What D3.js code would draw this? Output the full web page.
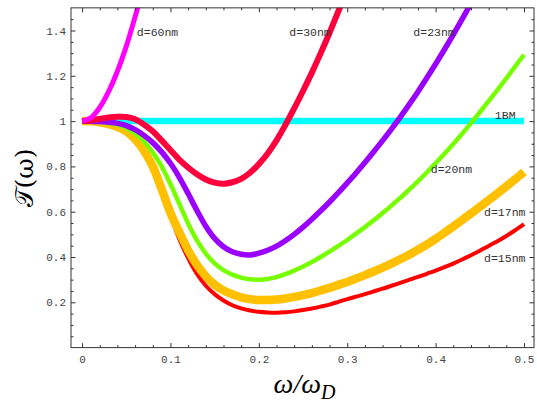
<!DOCTYPE html>
<html lang="en">
<head>
    <meta charset="UTF-8">
    <title>Transmission</title>
    <script src="https://d3js.org/d3.v7.min.js"></script>
</head>
<body>
<div id='chart'>
    <svg></svg>
</div>
</body>

<style>
    body {
        margin: 0;
        background: #fff;
    }

    path.curve {
        fill: none;
        stroke-linejoin: round;
    }

    .tick text {
        font-family: "Liberation Mono", "DejaVu Sans Mono", monospace;
        font-size: 11px;
        fill: #444;
    }

    .tick line {
        stroke: #333;
    }

    text.note {
        font-family: "Liberation Mono", "DejaVu Sans Mono", monospace;
        font-size: 11.5px;
        fill: #333;
    }
</style>

<script>
    // frequency grid (omega / omega_D)
    const omega = [0, 0.01, 0.02, 0.03, 0.04, 0.05, 0.06, 0.07, 0.08, 0.09,
        0.1, 0.11, 0.12, 0.13, 0.14, 0.15, 0.16, 0.17, 0.18, 0.19,
        0.2, 0.21, 0.22, 0.23, 0.24, 0.25, 0.26, 0.27, 0.28, 0.29,
        0.3, 0.31, 0.32, 0.33, 0.34, 0.35, 0.36, 0.37, 0.38, 0.39,
        0.4, 0.41, 0.42, 0.43, 0.44, 0.45, 0.46, 0.47, 0.48, 0.49, 0.5];

    const bulk = [1, 1, 1, 1, 1, 1, 1, 1, 1, 1, 1, 1, 1, 1, 1, 1, 1, 1, 1, 1, 1, 1, 1, 1, 1, 1,
        1, 1, 1, 1, 1, 1, 1, 1, 1, 1, 1, 1, 1, 1, 1, 1, 1, 1, 1, 1, 1, 1, 1, 1, 1];

    const d15 = [1, 0.999, 0.995, 0.986, 0.972, 0.95, 0.915, 0.862, 0.79, 0.692,
        0.582, 0.48, 0.395, 0.325, 0.273, 0.236, 0.208, 0.187, 0.173, 0.164,
        0.158, 0.155, 0.154, 0.156, 0.16, 0.166, 0.173, 0.181, 0.19, 0.202,
        0.214, 0.225, 0.236, 0.248, 0.26, 0.273, 0.286, 0.299, 0.312, 0.326,
        0.34, 0.355, 0.371, 0.389, 0.408, 0.428, 0.449, 0.47, 0.493, 0.518, 0.545];

    const d17 = [1, 0.999, 0.995, 0.987, 0.975, 0.955, 0.92, 0.87, 0.8, 0.7,
        0.595, 0.51, 0.43, 0.365, 0.315, 0.278, 0.252, 0.235, 0.222, 0.214,
        0.21, 0.21, 0.212, 0.217, 0.224, 0.232, 0.241, 0.252, 0.264, 0.277,
        0.29, 0.305, 0.32, 0.336, 0.353, 0.371, 0.39, 0.41, 0.432, 0.455,
        0.48, 0.507, 0.535, 0.563, 0.592, 0.621, 0.651, 0.681, 0.712, 0.743, 0.775];

    const d20 = [1, 0.999, 0.997, 0.992, 0.985, 0.97, 0.945, 0.91, 0.862, 0.8,
        0.722, 0.635, 0.548, 0.473, 0.415, 0.372, 0.342, 0.322, 0.309, 0.302,
        0.3, 0.303, 0.311, 0.324, 0.34, 0.358, 0.378, 0.4, 0.424, 0.449,
        0.475, 0.503, 0.532, 0.562, 0.594, 0.627, 0.661, 0.697, 0.734, 0.773,
        0.814, 0.856, 0.899, 0.944, 0.991, 1.039, 1.088, 1.138, 1.189, 1.241, 1.293];

    const d23 = [1, 0.999, 0.998, 0.995, 0.99, 0.98, 0.962, 0.937, 0.905, 0.864,
        0.814, 0.752, 0.68, 0.605, 0.536, 0.482, 0.445, 0.423, 0.412, 0.409,
        0.417, 0.43, 0.448, 0.472, 0.5, 0.532, 0.567, 0.604, 0.643, 0.684,
        0.727, 0.771, 0.817, 0.865, 0.914, 0.965, 1.018, 1.073, 1.13, 1.19,
        1.252, 1.316, 1.382, 1.45, 1.52];

    const d30 = [1, 1.004, 1.01, 1.016, 1.019, 1.018, 1.008, 0.985, 0.955, 0.915,
        0.872, 0.83, 0.795, 0.765, 0.742, 0.728, 0.723, 0.73, 0.745, 0.772,
        0.81, 0.857, 0.915, 0.983, 1.056, 1.133, 1.214, 1.3, 1.39, 1.485, 1.58];

    const d60 = [1, 1.015, 1.06, 1.13, 1.22, 1.33, 1.46, 1.6];

    const seriesNames = ['1BM', 'd=15nm', 'd=17nm', 'd=20nm', 'd=23nm', 'd=30nm', 'd=60nm'];
    const seriesValues = [bulk, d15, d17, d20, d23, d30, d60];
    const seriesColors = ['#00ffff', '#ff0000', '#ffc000', '#77ff00', '#9900ff', '#ff003c', '#ff00ff'];
    const seriesWidths = [6.5, 4, 8.5, 4.5, 5.5, 6, 5];

    const xMajor = [0, 0.1, 0.2, 0.3, 0.4, 0.5];
    const xMinor = [0.02, 0.04, 0.06, 0.08, 0.12, 0.14, 0.16, 0.18, 0.22, 0.24, 0.26, 0.28,
        0.32, 0.34, 0.36, 0.38, 0.42, 0.44, 0.46, 0.48];
    const yMajor = [0.2, 0.4, 0.6, 0.8, 1, 1.2, 1.4];
    const yMinor = [0.05, 0.1, 0.15, 0.25, 0.3, 0.35, 0.45, 0.5, 0.55, 0.65, 0.7, 0.75,
        0.85, 0.9, 0.95, 1.05, 1.1, 1.15, 1.25, 1.3, 1.35, 1.45];

    // in-plot labels: text, omega, value at left/middle of the text
    const labelText = ['d=60nm', 'd=30nm', 'd=23nm', '1BM', 'd=20nm', 'd=17nm', 'd=15nm'];
    const labelOmega = [0.062, 0.2345, 0.3748, 0.467, 0.3945, 0.4548, 0.4548];
    const labelValue = [1.395, 1.395, 1.395, 1.027, 0.787, 0.597, 0.394];

    const width = 537;
    const height = 403;

    const svg = d3.select('svg')
        .attr('width', width)
        .attr('height', height)
        .style('display', 'block');

    const x = d3.scaleLinear().domain([-0.0125, 0.5113]).range([71, 534]);
    const y = d3.scaleLinear().domain([0, 1.5]).range([347.6, 7.85]);
    const fmt = d3.format('~g');

    const plotBottom = y.range()[0];
    const plotTop = y.range()[1];
    const plotLeft = x.range()[0];
    const plotRight = x.range()[1];

    svg.append('clipPath')
        .attr('id', 'plot-clip')
        .append('rect')
        .attr('x', plotLeft)
        .attr('y', plotTop)
        .attr('width', plotRight - plotLeft)
        .attr('height', plotBottom - plotTop);

    // curves
    const line = d3.line()
        .x(d => x(d[0]))
        .y(d => y(d[1]))
        .curve(d3.curveCatmullRom.alpha(0.5));

    const gCurves = svg.append('g').attr('clip-path', 'url(#plot-clip)');

    seriesValues.forEach((vals, i) => {
        gCurves.append('path')
            .attr('class', 'curve')
            .attr('stroke', seriesColors[i])
            .attr('stroke-width', seriesWidths[i])
            .attr('d', line(vals.map((v, k) => [omega[k], v])));
    });

    // frame and ticks
    function addAxis(axis, tf, labels) {
        const g = svg.append('g').attr('transform', tf).call(axis);
        g.select('.domain').remove();
        if (!labels) g.selectAll('text').remove();
        return g;
    }

    addAxis(d3.axisBottom(x).tickValues(xMajor).tickSize(-4.5).tickPadding(8).tickFormat(fmt),
        `translate(0,${plotBottom})`, true);
    addAxis(d3.axisBottom(x).tickValues(xMinor).tickSize(-2.5), `translate(0,${plotBottom})`, false);
    addAxis(d3.axisTop(x).tickValues(xMajor).tickSize(-4.5), `translate(0,${plotTop})`, false);
    addAxis(d3.axisTop(x).tickValues(xMinor).tickSize(-2.5), `translate(0,${plotTop})`, false);

    addAxis(d3.axisLeft(y).tickValues(yMajor).tickSize(-4.5).tickPadding(5).tickFormat(fmt),
        `translate(${plotLeft},0)`, true);
    addAxis(d3.axisLeft(y).tickValues(yMinor).tickSize(-2.5), `translate(${plotLeft},0)`, false);
    addAxis(d3.axisRight(y).tickValues(yMajor).tickSize(-4.5), `translate(${plotRight},0)`, false);
    addAxis(d3.axisRight(y).tickValues(yMinor).tickSize(-2.5), `translate(${plotRight},0)`, false);

    svg.append('rect')
        .attr('x', plotLeft)
        .attr('y', plotTop)
        .attr('width', plotRight - plotLeft)
        .attr('height', plotBottom - plotTop)
        .attr('fill', 'none')
        .attr('stroke', '#333')
        .attr('stroke-width', 1);

    // curve labels
    labelText.forEach((t, i) => {
        svg.append('text')
            .attr('class', 'note')
            .attr('x', x(labelOmega[i]))
            .attr('y', y(labelValue[i]))
            .attr('dy', '0.35em')
            .text(t);
    });

    // axis titles
    const xTitle = svg.append('text')
        .attr('x', (plotLeft + plotRight) / 2 + 2)
        .attr('y', 393)
        .attr('text-anchor', 'middle')
        .style('font-family', '"Liberation Serif", "DejaVu Serif", serif')
        .style('font-style', 'italic')
        .style('font-size', '28px')
        .style('fill', '#000');
    xTitle.append('tspan').text('ω/ω');
    xTitle.append('tspan').attr('dy', 6).style('font-size', '20px').text('D');

    svg.append('text')
        .attr('transform', 'translate(33,178) rotate(-90)')
        .attr('text-anchor', 'middle')
        .style('font-family', '"DejaVu Serif", "Liberation Serif", serif')
        .style('font-size', '25px')
        .style('fill', '#000')
        .text('𝒯(ω)');
</script>
</html>
